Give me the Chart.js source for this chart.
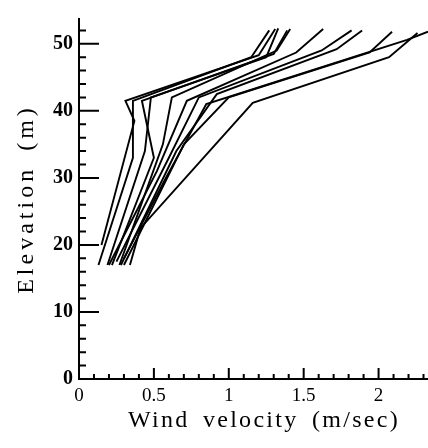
<!DOCTYPE html>
<html lang="en">
<head>
<meta charset="UTF-8" />
<script src="https://cdn.jsdelivr.net/npm/chart.js"></script>
<title>Wind velocity profiles</title>
<style>
  html, body { margin: 0; padding: 0; background: #fff; }
</style>
</head>
<body>
<canvas id="windChart" width="428" height="448"></canvas>
<script>
// tick labels
const xTicks = [0, 0.5, 1, 1.5, 2];
const yTicks = [0, 10, 20, 30, 40, 50];

// velocity profiles: [wind velocity (m/sec), elevation (m)]
const run1  = [[0.13, 17], [0.36, 33], [0.36, 41.5], [1.15, 48], [1.27, 52]];
const run2  = [[0.15, 20], [0.37, 38.5], [0.31, 41.5], [1.20, 48.3], [1.31, 52.2]];
const run3  = [[0.19, 17], [0.44, 34], [0.48, 42], [1.25, 48], [1.33, 52.3]];
const run4  = [[0.22, 17], [0.50, 33], [0.42, 41.5], [1.30, 48.5], [1.39, 52]];
const run5  = [[0.27, 17], [0.56, 35], [0.62, 42], [1.32, 49], [1.41, 52.2]];
const run6  = [[0.20, 17], [0.52, 31], [0.72, 41.5], [1.45, 48.7], [1.63, 52.2]];
const run7  = [[0.25, 17.5], [0.60, 33], [0.80, 42], [1.62, 49], [1.82, 52]];
const run8  = [[0.28, 17], [0.65, 34], [0.92, 42.5], [1.72, 49.2], [1.89, 52]];
const run9  = [[0.30, 17], [0.70, 35], [1.00, 42], [1.94, 48.7], [2.09, 51.8]];
const run10 = [[0.34, 17], [0.41, 22.5], [1.16, 41.2], [2.07, 48], [2.26, 51.6]];
const run11 = [[0.30, 18], [0.58, 30], [0.85, 41], [2.19, 50.6], [2.33, 51.8]];

const runs = [run1, run2, run3, run4, run5, run6, run7, run8, run9, run10, run11];

const serif = '"Liberation Serif", "DejaVu Serif", serif';

// ticks drawn inside the plot, plus axis titles
const innerTicks = {
  id: 'innerTicks',
  afterDraw(chart) {
    const { ctx, scales: { x, y } } = chart;
    ctx.save();
    ctx.strokeStyle = '#000';
    ctx.lineWidth = 2;
    ctx.beginPath();
    const y0 = y.getPixelForValue(0);
    for (let i = 1; i <= 23; i++) {
      const px = x.getPixelForValue(i / 10);
      const len = i % 5 === 0 ? 11 : 5;
      ctx.moveTo(px, y0);
      ctx.lineTo(px, y0 - len);
    }
    const x0 = x.getPixelForValue(0);
    for (let v = 2; v <= 52; v += 2) {
      const py = y.getPixelForValue(v);
      const len = v % 10 === 0 ? 20 : 7;
      ctx.moveTo(x0, py);
      ctx.lineTo(x0 + len, py);
    }
    ctx.stroke();

    ctx.fillStyle = '#000';
    ctx.font = '24px ' + serif;
    ctx.textAlign = 'center';
    ctx.textBaseline = 'alphabetic';
    ctx.letterSpacing = '2.3px';
    ctx.wordSpacing = '5px';
    ctx.fillText('Wind velocity (m/sec)', 264, 427);

    ctx.translate(33, 199);
    ctx.rotate(-Math.PI / 2);
    ctx.letterSpacing = '4px';
    ctx.fillText('Elevation (m)', 0, 0);
    ctx.restore();
  }
};

new Chart(document.getElementById('windChart'), {
  type: 'scatter',
  data: {
    datasets: runs.map((r, i) => ({
      label: 'Run ' + (i + 1),
      data: r.map(p => ({ x: p[0], y: p[1] })),
      showLine: true,
      borderColor: '#000',
      borderWidth: 1.9,
      pointRadius: 0,
      tension: 0
    }))
  },
  options: {
    responsive: false,
    animation: false,
    layout: { padding: { top: 19, left: 0, right: 0, bottom: 0 } },
    plugins: { legend: { display: false }, tooltip: { enabled: false } },
    scales: {
      x: {
        type: 'linear',
        min: 0,
        max: 2.33,
        grid: { display: false, drawTicks: false },
        border: { display: true, color: '#000', width: 2 },
        afterBuildTicks: s => { s.ticks = xTicks.map(v => ({ value: v })); },
        afterFit: s => { s.height = 69; },
        ticks: {
          color: '#000',
          padding: 6,
          maxRotation: 0,
          font: { family: serif, size: 19 },
          callback: v => String(v)
        }
      },
      y: {
        type: 'linear',
        min: 0,
        max: 53.7,
        grid: { display: false, drawTicks: false },
        border: { display: true, color: '#000', width: 2 },
        afterBuildTicks: s => { s.ticks = yTicks.map(v => ({ value: v })); },
        afterFit: s => { s.width = 79; },
        ticks: {
          color: '#000',
          padding: 6,
          font: { family: serif, size: 20, weight: 'bold' },
          callback: v => String(v)
        }
      }
    }
  },
  plugins: [innerTicks]
});
</script>
</body>
</html>
